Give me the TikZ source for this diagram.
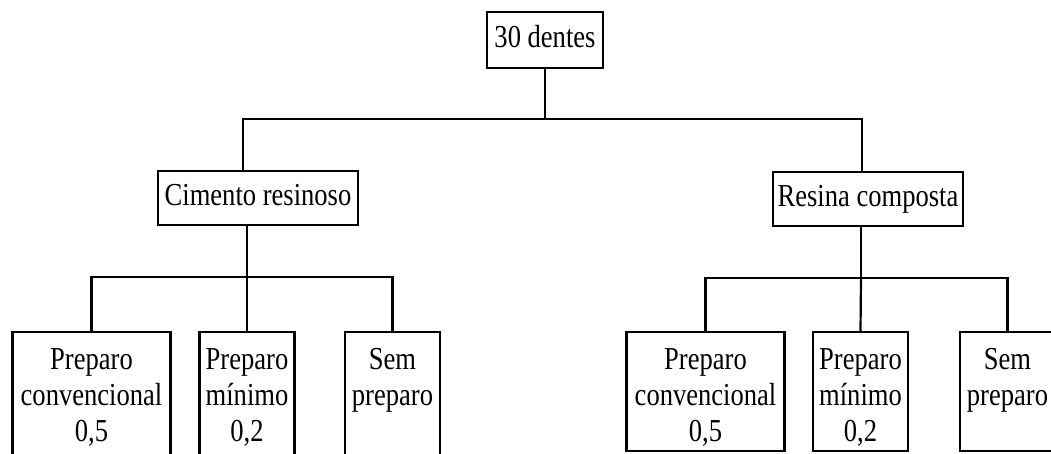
\documentclass[tikz,border=0pt]{standalone}
\usepackage{fontspec}
\setmainfont[FakeStretch=0.83]{Liberation Serif}
\begin{document}
\begin{tikzpicture}[x=1pt, y=-1pt, line width=2.2pt,
box node/.style={rectangle,draw,inner sep=0pt,font=\fontsize{32}{36}\selectfont},
mid node/.style={box node,text height=22pt,text depth=6pt},
leaf node/.style={box node,anchor=north,align=center,inner xsep=4pt,inner ysep=15pt,text height=22pt,text depth=67pt}]
\useasboundingbox (0,0) rectangle (1051,454);
\clip (0,0) rectangle (1051,454);
\begin{scope}
\node[mid node,minimum width=116pt,minimum height=56pt] (root) at (545,40) {30 dentes};
\node[mid node,minimum width=200pt,minimum height=54pt] (cim) at (258,198) {Cimento resinoso};
\node[mid node,minimum width=190pt,minimum height=54pt] (res) at (868,199) {Resina composta};
\node[leaf node,text width=150pt,text depth=80pt] (pc1) at (91.5,331) {Preparo\\convencional\\0,5};
\node[leaf node,text width=87pt,text depth=80pt] (pm1) at (247,331) {Preparo\\mínimo\\0,2};
\node[leaf node,text width=87pt,text depth=80pt] (sp1) at (392.5,331) {Sem\\preparo};
\node[leaf node,text width=150pt] (pc2) at (705.5,331) {Preparo\\convencional\\0,5};
\node[leaf node,text width=87pt] (pm2) at (860.5,331) {Preparo\\mínimo\\0,2};
\node[leaf node,text width=87pt] (sp2) at (1007.5,331) {Sem\\preparo};
\end{scope}
\begin{scope}
\coordinate (bus0) at (545,119);
\coordinate (bus1) at (247,277);
\coordinate (bus2) at (861,278);
\draw (root.south) -- (bus0);
\draw ([xshift=-15pt]cim.north) |- (bus0) -| ([xshift=-6pt]res.north);
\draw (cim.south -| bus1) -- (bus1);
\draw (pc1.north) |- (bus1) -| (sp1.north);
\draw (bus1) -- (pm1.north);
\draw (res.south -| bus2) -- (bus2);
\draw (pc2.north) |- (bus2) -| (sp2.north);
\draw (bus2) -- (pm2.north);
\end{scope}
\end{tikzpicture}
\end{document}
